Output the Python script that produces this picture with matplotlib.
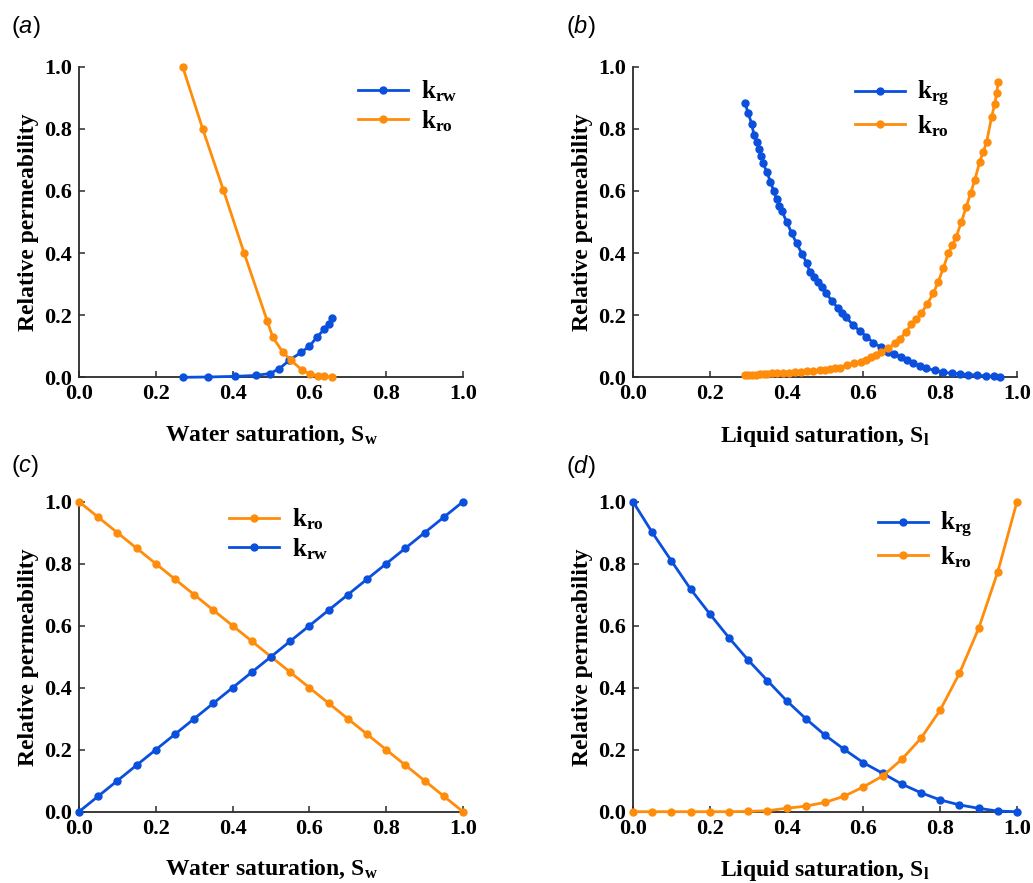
import matplotlib.pyplot as plt
from matplotlib.ticker import FormatStrFormatter

plt.rcParams["font.family"] = ["Liberation Serif", "DejaVu Serif"]
plt.rcParams["font.weight"] = "bold"
plt.rcParams["mathtext.fontset"] = "custom"
plt.rcParams["mathtext.rm"] = "Liberation Serif:bold"
plt.rcParams["mathtext.bf"] = "Liberation Serif:bold"
plt.rcParams["mathtext.it"] = "Liberation Sans:italic:weight=normal"

BLUE, ORANGE, SPINE = "#0a50dc", "#ff8c0a", "#2b2b2b"

# (a) water/oil, measured
sw_a_rw = [0.271, 0.337, 0.406, 0.460, 0.497, 0.522, 0.548, 0.578, 0.600, 0.620, 0.639, 0.650, 0.660]
krw_a = [0.0, 0.001, 0.003, 0.006, 0.012, 0.028, 0.055, 0.080, 0.100, 0.130, 0.155, 0.172, 0.192]
sw_a_ro = [0.270, 0.322, 0.376, 0.430, 0.490, 0.504, 0.530, 0.551, 0.581, 0.601, 0.623, 0.638, 0.660]
kro_a = [1.0, 0.80, 0.603, 0.40, 0.182, 0.131, 0.082, 0.056, 0.023, 0.011, 0.004, 0.003, 0.001]

# (b) gas/liquid, measured
sl_b_rg = [0.292, 0.300, 0.309, 0.315, 0.322, 0.328, 0.334, 0.339, 0.348, 0.358,
           0.366, 0.374, 0.381, 0.388, 0.400, 0.413, 0.426, 0.440, 0.453, 0.460,
           0.471, 0.482, 0.492, 0.502, 0.518, 0.534, 0.544, 0.554, 0.573, 0.590,
           0.608, 0.625, 0.645, 0.664, 0.680, 0.699, 0.714, 0.729, 0.747, 0.764,
           0.786, 0.808, 0.830, 0.851, 0.873, 0.895, 0.920, 0.940, 0.955]
krg_b = [0.882, 0.850, 0.817, 0.780, 0.757, 0.734, 0.711, 0.689, 0.662, 0.630,
         0.601, 0.573, 0.553, 0.535, 0.501, 0.465, 0.431, 0.398, 0.367, 0.340,
         0.323, 0.308, 0.290, 0.272, 0.246, 0.222, 0.208, 0.195, 0.168, 0.150,
         0.131, 0.112, 0.097, 0.082, 0.074, 0.066, 0.055, 0.045, 0.036, 0.029,
         0.022, 0.016, 0.013, 0.011, 0.009, 0.007, 0.004, 0.003, 0.002]
sl_b_ro = [0.291, 0.300, 0.310, 0.320, 0.330, 0.340, 0.350, 0.362, 0.375, 0.390,
           0.405, 0.421, 0.437, 0.453, 0.470, 0.486, 0.500, 0.513, 0.526, 0.539,
           0.556, 0.575, 0.595, 0.608, 0.621, 0.634, 0.647, 0.664, 0.682, 0.695,
           0.710, 0.725, 0.738, 0.751, 0.766, 0.782, 0.795, 0.808, 0.821, 0.832,
           0.842, 0.855, 0.868, 0.879, 0.890, 0.903, 0.912, 0.921, 0.934, 0.942,
           0.947, 0.951]
kro_b = [0.007, 0.007, 0.008, 0.009, 0.010, 0.011, 0.012, 0.013, 0.013, 0.014,
         0.015, 0.016, 0.018, 0.019, 0.021, 0.023, 0.025, 0.027, 0.029, 0.031,
         0.040, 0.045, 0.050, 0.056, 0.064, 0.072, 0.082, 0.093, 0.109, 0.122,
         0.146, 0.170, 0.187, 0.206, 0.236, 0.270, 0.308, 0.351, 0.399, 0.426,
         0.453, 0.500, 0.549, 0.592, 0.635, 0.694, 0.725, 0.758, 0.839, 0.880,
         0.914, 0.951]

# (c) water/oil, linear model
sw_c = [0.0, 0.05, 0.10, 0.15, 0.20, 0.25, 0.30, 0.35, 0.40, 0.45, 0.50,
        0.55, 0.60, 0.65, 0.70, 0.75, 0.80, 0.85, 0.90, 0.95, 1.0]
kro_c = [1.0, 0.95, 0.90, 0.85, 0.80, 0.75, 0.70, 0.65, 0.60, 0.55, 0.50,
         0.45, 0.40, 0.35, 0.30, 0.25, 0.20, 0.15, 0.10, 0.05, 0.0]
krw_c = [0.0, 0.05, 0.10, 0.15, 0.20, 0.25, 0.30, 0.35, 0.40, 0.45, 0.50,
         0.55, 0.60, 0.65, 0.70, 0.75, 0.80, 0.85, 0.90, 0.95, 1.0]

# (d) gas/liquid, model
sl_d = [0.0, 0.05, 0.10, 0.15, 0.20, 0.25, 0.30, 0.35, 0.40, 0.45, 0.50,
        0.55, 0.60, 0.65, 0.70, 0.75, 0.80, 0.85, 0.90, 0.95, 1.0]
krg_d = [1.0, 0.901, 0.809, 0.718, 0.638, 0.561, 0.489, 0.423, 0.358, 0.300, 0.247,
         0.201, 0.158, 0.124, 0.089, 0.061, 0.038, 0.022, 0.011, 0.002, 0.0]
kro_d = [0.0, 0.0, 0.0, 0.0, 0.0, 0.0, 0.001, 0.003, 0.011, 0.018, 0.030,
         0.050, 0.080, 0.115, 0.169, 0.237, 0.328, 0.446, 0.591, 0.774, 1.0]

W, H = 1033, 883
fig = plt.figure(figsize=(W / 100, H / 100), dpi=100)


def px_axes(x0, y0, x1, y1):
    """Axes from pixel corners (x0 at value 0, y0 at value 1.0, x1 at 1.0, y1 at 0)."""
    return fig.add_axes([x0 / W, 1 - y1 / H, (x1 - x0) / W, (y1 - y0) / H])


def style(ax, xlabel):
    ax.set_xlim(0, 1)
    ax.set_ylim(0, 1)
    ax.set_xticks([0, 0.2, 0.4, 0.6, 0.8, 1.0])
    ax.set_yticks([0, 0.2, 0.4, 0.6, 0.8, 1.0])
    ax.xaxis.set_major_formatter(FormatStrFormatter("%.1f"))
    ax.yaxis.set_major_formatter(FormatStrFormatter("%.1f"))
    ax.tick_params(direction="in", length=4.5, width=1.1, color=SPINE,
                   labelsize=16, pad=5)
    for lab in ax.get_xticklabels() + ax.get_yticklabels():
        lab.set_fontweight("bold")
    for s in ("top", "right"):
        ax.spines[s].set_visible(False)
    for s in ("left", "bottom"):
        ax.spines[s].set_color(SPINE)
        ax.spines[s].set_linewidth(1.3)
    ax.set_xlabel(xlabel, fontsize=17, fontweight="bold", labelpad=14)
    ax.set_ylabel("Relative permeability", fontsize=17, fontweight="bold", labelpad=4)


def curve(ax, x, y, color, label):
    ax.plot(x, y, color=color, lw=2.0, marker="o", ms=5, label=label,
            clip_on=False, zorder=3)


def legend(ax, ax_x, ax_y):
    ax.legend(loc="center left", bbox_to_anchor=(ax_x, ax_y), frameon=False,
              fontsize=18, numpoints=1, handlelength=2.0, handletextpad=0.5,
              labelspacing=0.15, borderpad=0, borderaxespad=0)


KRW = r"$\mathrm{k_{rw}}$"
KRO = r"$\mathrm{k_{ro}}$"
KRG = r"$\mathrm{k_{rg}}$"
SW = r"Water saturation, S$_\mathrm{w}$"
SL = r"Liquid saturation, S$_\mathrm{l}$"

ax_a = px_axes(79, 66.7, 463, 377.3)
curve(ax_a, sw_a_rw, krw_a, BLUE, KRW)
curve(ax_a, sw_a_ro, kro_a, ORANGE, KRO)
style(ax_a, SW)
legend(ax_a, 0.727, 0.873)

ax_b = px_axes(633, 66.7, 1017, 377.3)
curve(ax_b, sl_b_rg, krg_b, BLUE, KRG)
curve(ax_b, sl_b_ro, kro_b, ORANGE, KRO)
style(ax_b, SL)
legend(ax_b, 0.578, 0.864)

ax_c = px_axes(79, 501.7, 463, 811.7)
curve(ax_c, sw_c, kro_c, ORANGE, KRO)
curve(ax_c, sw_c, krw_c, BLUE, KRW)
style(ax_c, SW)
legend(ax_c, 0.391, 0.895)

ax_d = px_axes(633, 501.7, 1017, 811.7)
curve(ax_d, sl_d, krg_d, BLUE, KRG)
curve(ax_d, sl_d, kro_d, ORANGE, KRO)
style(ax_d, SL)
legend(ax_d, 0.638, 0.877)

# panel tags: upright sans parentheses around an italic letter
for tag, (px, py) in zip("abcd", [(11, 27), (566, 27), (11, 466), (566, 466)]):
    fig.text(px / W, 1 - py / H, "(" + r"$\mathit{%s}$" % tag + ")",
             fontsize=17, fontweight="normal", family="Liberation Sans",
             ha="left", va="center")

fig.savefig("out.png", dpi=100)
